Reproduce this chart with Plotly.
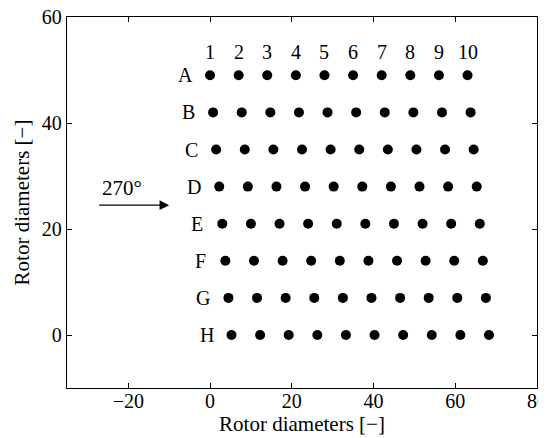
import plotly.graph_objects as go

row_labels = ["A", "B", "C", "D", "E", "F", "G", "H"]
row_y = [49, 42, 35, 28, 21, 14, 7, 0]
row_x = [
    [0.0, 7.0, 14.0, 21.0, 28.0, 35.0, 42.0, 49.0, 56.0, 63.0],
    [0.75, 7.75, 14.75, 21.75, 28.75, 35.75, 42.75, 49.75, 56.75, 63.75],
    [1.5, 8.5, 15.5, 22.5, 29.5, 36.5, 43.5, 50.5, 57.5, 64.5],
    [2.25, 9.25, 16.25, 23.25, 30.25, 37.25, 44.25, 51.25, 58.25, 65.25],
    [3.0, 10.0, 17.0, 24.0, 31.0, 38.0, 45.0, 52.0, 59.0, 66.0],
    [3.75, 10.75, 17.75, 24.75, 31.75, 38.75, 45.75, 52.75, 59.75, 66.75],
    [4.5, 11.5, 18.5, 25.5, 32.5, 39.5, 46.5, 53.5, 60.5, 67.5],
    [5.25, 12.25, 19.25, 26.25, 33.25, 40.25, 47.25, 54.25, 61.25, 68.25],
]
col_labels = ["1", "2", "3", "4", "5", "6", "7", "8", "9", "10"]
col_label_y = 53.4
x_ticks = [-20, 0, 20, 40, 60, 80]
y_ticks = [0, 20, 40, 60]
wind_label = "270°"
arrow_start = (-27.5, 24.5)
arrow_end = (-10.0, 24.5)
wind_label_pos = (-21.5, 27.8)

FONT = "Liberation Serif, Times New Roman, serif"

fig = go.Figure()
for lab, y, xs in zip(row_labels, row_y, row_x):
    fig.add_trace(go.Scatter(
        x=xs, y=[y] * len(xs), mode="markers",
        marker=dict(size=10, color="black"), showlegend=False, name=lab,
        cliponaxis=False,
    ))

annotations = []
for lab, y, xs in zip(row_labels, row_y, row_x):
    annotations.append(dict(x=xs[0], y=y, text=lab, showarrow=False,
                            xanchor="center", yanchor="middle", xshift=-25,
                            font=dict(family=FONT, size=20, color="black")))
for lab, x in zip(col_labels, row_x[0]):
    annotations.append(dict(x=x, y=col_label_y, text=lab, showarrow=False,
                            xanchor="center", yanchor="middle",
                            font=dict(family=FONT, size=20, color="black")))
annotations.append(dict(x=arrow_end[0], y=arrow_end[1], ax=arrow_start[0], ay=arrow_start[1],
                        xref="x", yref="y", axref="x", ayref="y", text="",
                        showarrow=True, arrowhead=2, arrowsize=1.6, arrowwidth=1.2,
                        arrowcolor="black"))
annotations.append(dict(x=wind_label_pos[0], y=wind_label_pos[1], text=wind_label,
                        showarrow=False, xanchor="center", yanchor="middle",
                        font=dict(family=FONT, size=21, color="black")))

axis_common = dict(
    showline=True, linecolor="black", linewidth=1.4, mirror="ticks",
    ticks="inside", ticklen=5, tickwidth=1, tickcolor="black",
    showgrid=False, zeroline=False, automargin=False,
    ticklabeloverflow="allow",
    tickfont=dict(family=FONT, size=20, color="black"),
)

fig.update_layout(
    width=538, height=430,
    margin=dict(l=59, r=9, t=9, b=50),
    paper_bgcolor="white", plot_bgcolor="white",
    xaxis=dict(range=[-35, 80], tickvals=x_ticks, ticklabelstandoff=-5,
               title=dict(text="Rotor diameters [−]", standoff=4,
                          font=dict(family=FONT, size=21, color="black")),
               **axis_common),
    yaxis=dict(range=[-10, 60], tickvals=y_ticks,
               title=dict(text="Rotor diameters [−]", standoff=6,
                          font=dict(family=FONT, size=21, color="black")),
               **axis_common),
    annotations=annotations,
)

fig.write_html("out.html")
